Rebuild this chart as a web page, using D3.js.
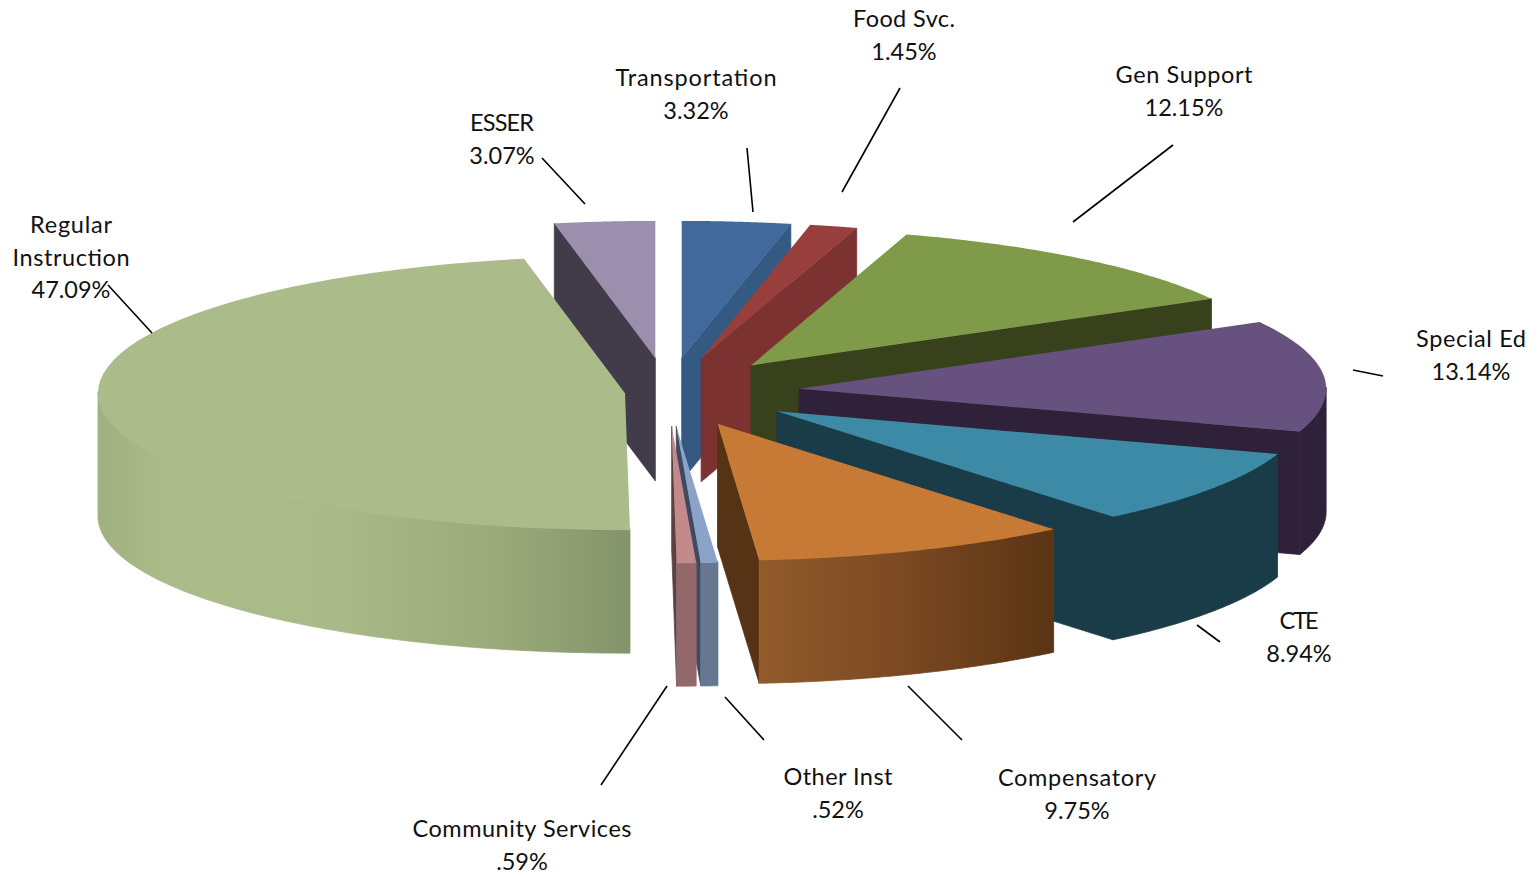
<!DOCTYPE html>
<html><head><meta charset="utf-8">
<script src="https://cdn.jsdelivr.net/npm/d3@7/dist/d3.min.js"></script>
<style>html,body{margin:0;padding:0;background:#fff;overflow:hidden}svg{display:block}text{font-family:Lato,"Open Sans",sans-serif;font-size:23.5px;fill:#111;text-anchor:middle}</style>
</head><body><svg id="c" width="1537" height="876"></svg>
<script>
const categories = ["Transportation","Food Svc.","Gen Support","Special Ed","CTE","Compensatory","Other Inst","Community Services","Regular Instruction","ESSER"];
const values = [3.32,1.45,12.15,13.14,8.94,9.75,0.52,0.59,47.09,3.07];
const valueLabels = ["3.32%","1.45%","12.15%","13.14%","8.94%","9.75%",".52%",".59%","47.09%","3.07%"];
const explosion = [0.25,0.25,0.25,0.25,0.25,0.25,0.25,0.25,0.082,0.25];
const topColors = ["#41699b","#983f3d","#7f9a48","#67517f","#3c8aa5","#c77936","#8ca3c9","#c48a8b","#abbb89","#9c8fae"];
const sideColors = ["#345a84","#7b3231","#37411b","#2e2139","#1a3c49","#563315","#3e4a61","#5a4243","#84946a","#423c4a"];
const wallStops = [
 [[0,"#345a84"],[1,"#345a84"]],
 [[0,"#7b3231"],[1,"#7b3231"]],
 [[0,"#37411b"],[1,"#37411b"]],
 [[0,"#2e2139"],[1,"#2e2139"]],
 [[0,"#1a3c49"],[1,"#1a3c49"]],
 [[0,"#915b2b"],[0.5,"#7a4822"],[1,"#5a3414"]],
 [[0,"#66788f"],[1,"#66788f"]],
 [[0,"#92686a"],[1,"#92686a"]],
 [[0,"#a0b180"],[0.13,"#abbb89"],[0.45,"#a9b987"],[0.75,"#9aaa7a"],[1,"#84946a"]],
 [[0,"#423c4a"],[1,"#423c4a"]]
];
const labelLines = [["Transportation"],["Food Svc."],["Gen Support"],["Special Ed"],["CTE"],["Compensatory"],["Other Inst"],["Community Services"],["Regular","Instruction"],["ESSER"]];
const labelWidths = [[161],[102],[137],[110],[39],[158],[109],[219],[82,117],[64]];
const labelAnchors = [[696,78],[904,19],[1184,75],[1471,339],[1299,621],[1077,778],[838,777],[522,829],[71,225],[502,123]];
const leaderLines = [[747,148,753,212],[900,88,842,192],[1173,145,1073,222],[1353,370,1383,376],[1197,625,1220,642],[908,686,962,740],[725,697,764,740],[667,686,601,785],[108,285,152,333],[542,158,585,204]];
const center = {x:668,y:392}, rx=527, ry=137, depth=123, lineH=32.5;

const svg = d3.select("#c"), defs = svg.append("defs");
const arcs = d3.pie().sort(null).value(d=>d)(values);
const sx = d3.scaleLinear().domain([-1,1]).range([-rx,rx]);
const sy = d3.scaleLinear().domain([-1,1]).range([ry,-ry]);
const draw = d3.line().x(d=>d[0]).y(d=>d[1]);
const closed = pts => draw(pts)+"Z";

// Painter's order: back slices first, the large left slice over the ESSER side
const order = [9,0,1,2,3,4,5,6,7,8];
order.forEach(i=>{
  const a=arcs[i], a0=a.startAngle, a1=a.endAngle, mid=(a0+a1)/2;
  const ax=center.x+sx(Math.sin(mid)*explosion[i]), ay=center.y+sy(Math.cos(mid)*explosion[i]);
  const P=(t,dz=0)=>[ax+sx(Math.sin(t)),ay+sy(Math.cos(t))+dz];
  const apex=[ax,ay], apexB=[ax,ay+depth];
  const g=svg.append("g").attr("class","slice").attr("data-name",categories[i]);
  const steps=(t0,t1)=>d3.range(0,61).map(k=>t0+(t1-t0)*k/60);

  // radial faces that point toward the viewer
  [[a0,a0-Math.PI/2],[a1,a1+Math.PI/2]].forEach(([t,n])=>{
    if(Math.cos(n)<-1e-6) g.append("path").attr("d",closed([apex,P(t),P(t,depth),apexB]))
      .attr("fill",sideColors[i]).attr("stroke",sideColors[i]).attr("stroke-width",0.8);
  });
  // outer wall (top edge tucked under the top face to avoid a seam)
  const w0=Math.max(a0,Math.PI/2), w1=Math.min(a1,3*Math.PI/2);
  if(w1>w0){
    const ts=steps(w0,w1);
    const xs=ts.map(t=>P(t)[0]);
    const id="w"+i;
    const gr=defs.append("linearGradient").attr("id",id).attr("gradientUnits","userSpaceOnUse")
      .attr("x1",d3.min(xs)).attr("x2",d3.max(xs)).attr("y1",0).attr("y2",0);
    wallStops[i].forEach(s=>gr.append("stop").attr("offset",s[0]).attr("stop-color",s[1]));
    const pts=ts.map(t=>P(t,-1.5)).concat(ts.slice().reverse().map(t=>P(t,depth)));
    g.append("path").attr("d",closed(pts)).attr("fill",`url(#${id})`)
      .attr("stroke",`url(#${id})`).attr("stroke-width",0.8);
  }
  // top
  g.append("path").attr("d",closed([apex].concat(steps(a0,a1).map(t=>P(t))))).attr("fill",topColors[i]);
});

svg.append("g").selectAll("line").data(leaderLines).join("line")
  .attr("x1",d=>d[0]).attr("y1",d=>d[1]).attr("x2",d=>d[2]).attr("y2",d=>d[3])
  .attr("stroke","#000").attr("stroke-width",1.6);

const labels=svg.append("g").selectAll("text").data(categories).join("text")
  .attr("transform",(d,i)=>`translate(${labelAnchors[i][0]},${labelAnchors[i][1]+8})`);
labels.each(function(d,i){
  const lines=labelLines[i].concat(valueLabels[i]);
  d3.select(this).selectAll("tspan").data(lines).join("tspan")
    .attr("x",0).attr("y",(l,k)=>k*lineH)
    .attr("textLength",(l,k)=>labelWidths[i][k]||null)
    .attr("lengthAdjust","spacing")
    .text(l=>l);
});
</script></body></html>
